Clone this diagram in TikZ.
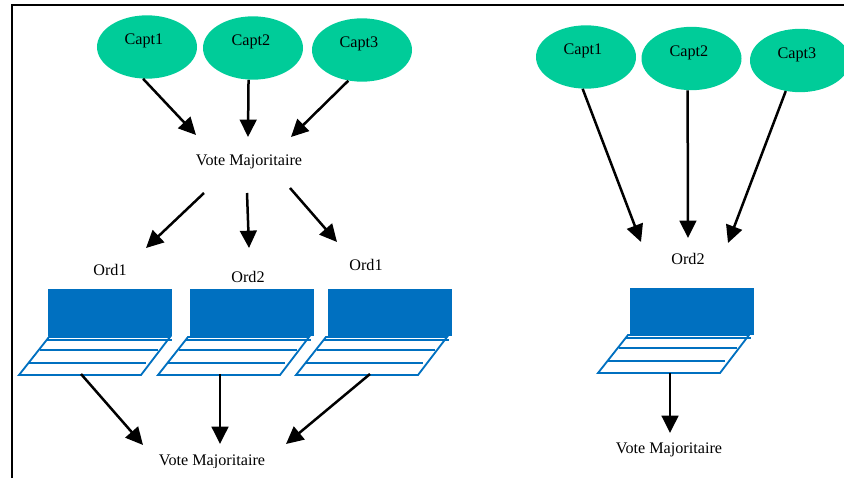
\documentclass[tikz,border=0pt]{standalone}
\usepackage{fontspec}
\setmainfont{Liberation Serif}
\usetikzlibrary{arrows.meta,shapes.geometric}
\definecolor{captgreen}{RGB}{0,204,153}
\definecolor{ordblue}{RGB}{0,112,192}
\tikzset{
	capt/.style={ellipse, fill=captgreen, minimum width=3cm, minimum height=1.9cm, inner sep=0pt},
	screen/.style={rectangle, fill=ordblue, minimum width=3.72cm, minimum height=1.41cm, inner sep=0pt},
	txt/.style={font=\fontsize{13.8}{15}\selectfont, inner sep=0pt},
	link/.style={-{Triangle[length=0.52cm,width=0.5cm]}, line width=0.075cm, black},
	keyboard/.pic={
		\draw[ordblue, line width=0.055cm] (0,0) -- (122,0) -- (151,-38) -- (30,-38) -- cycle;
		\draw[ordblue, line width=0.055cm] (28,-35) -- (153,-35);
		\draw[ordblue, line width=0.055cm] (21,-25) -- (139,-25);
		\draw[ordblue, line width=0.055cm] (10,-12) -- (127,-12);
	}
}
\begin{document}
\begin{tikzpicture}[x=0.03cm,y=-0.03cm]
\useasboundingbox (0,0) rectangle (844,478);
% Frame
\coordinate (framea) at (11.5,478);
\coordinate (frameb) at (11.5,5.5);
\coordinate (framec) at (844,5.5);
\draw[line width=0.06cm] (framea) -- (frameb) -- (framec);
% Sensors of the first setup
\node[capt] (capta) at (147,47) {};
\node[capt] (captb) at (253,48) {};
\node[capt] (captc) at (362,50) {};
\node[txt] (labela) at (144,41) {Capt1};
\node[txt] (labelb) at (251,42) {Capt2};
\node[txt] (labelc) at (359,44) {Capt3};
% Vote after the sensors
\node[txt] (votea) at (249,162) {Vote Majoritaire};
\coordinate (ina) at (196,135);
\coordinate (inb) at (248,137);
\coordinate (inc) at (291,137);
\draw[link] (capta.263) -- (ina);
\draw[link] (captb.262) -- (inb);
\draw[link] (captc.246) -- (inc);
% Arrows to the computers
\coordinate (outa) at (204,193);
\coordinate (outb) at (247,193);
\coordinate (outc) at (290,188);
\coordinate (orda) at (146,248);
\coordinate (ordb) at (249,248);
\coordinate (ordc) at (337,242);
\draw[link] (outa) -- (orda);
\draw[link] (outb) -- (ordb);
\draw[link] (outc) -- (ordc);
% Computers
\node[txt] (namea) at (110,270) {Ord1};
\node[txt] (nameb) at (248,277) {Ord2};
\node[txt] (namec) at (366,265) {Ord1};
\node[screen] (screena) at (110,312.5) {};
\node[screen] (screenb) at (252,312.5) {};
\node[screen] (screenc) at (390,312.5) {};
\pic at (19,375) {keyboard};
\pic at (158,375) {keyboard};
\pic at (296,375) {keyboard};
% Last vote, its lower edge is cut
\begin{scope}
	\clip (140,445) rectangle (290,467.5);
	\node[txt] (voteb) at (212,462) {Vote Majoritaire};
\end{scope}
\coordinate (keya) at (81,374);
\coordinate (keyb) at (220,374);
\coordinate (keyc) at (370,374);
\coordinate (lasta) at (143,445);
\coordinate (lastb) at (220,444);
\coordinate (lastc) at (286,444);
\draw[link] (keya) -- (lasta);
\draw[link] (keyb) -- (lastb);
\draw[link] (keyc) -- (lastc);
% Sensors of the second setup
\node[capt] (captd) at (586,57) {};
\node[capt] (capte) at (691.5,58.5) {};
\node[capt] (captf) at (800,60.5) {};
\node[txt] (labeld) at (583,51) {Capt1};
\node[txt] (labele) at (689,53) {Capt2};
\node[txt] (labelf) at (797,55) {Capt3};
% Single computer
\node[txt] (named) at (688,259) {Ord2};
\coordinate (ind) at (641,242);
\coordinate (ine) at (688,238);
\coordinate (inf) at (728,243);
\draw[link] (captd.264) -- (ind);
\draw[link] (capte.263) -- (ine);
\draw[link] (captf.245) -- (inf);
\node[screen] (screend) at (692,311.5) {};
\pic at (598,373) {keyboard};
% Vote of the single computer
\node[txt] (votec) at (669,450) {Vote Majoritaire};
\coordinate (keyd) at (670,373);
\coordinate (lastd) at (670,433);
\draw[link] (keyd) -- (lastd);
\end{tikzpicture}
\end{document}
